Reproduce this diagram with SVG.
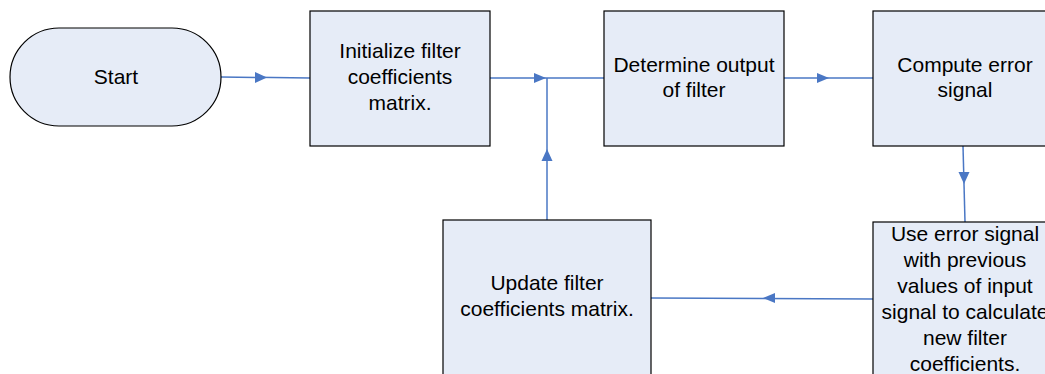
<svg xmlns="http://www.w3.org/2000/svg" width="1045" height="374" viewBox="0 0 1045 374">
<defs>
<style>
.box{fill:#E6ECF7;stroke:#000;stroke-width:1.2}
.t{font-family:"Liberation Sans",Arial,sans-serif;font-size:21px;fill:#000;text-anchor:middle}
.c{stroke:#4A77C4;stroke-width:1.5;fill:none}
.ah{fill:#4A77C4}
</style>
</defs>
<rect width="1045" height="374" fill="#fff"/>
<g id="connectors">
<line class="c" x1="221" y1="77" x2="310" y2="78"/>
<path class="ah" d="M255,72 L267,77.5 L255,83 Z"/>
<line class="c" x1="490" y1="78" x2="604" y2="78"/>
<path class="ah" d="M534,73 L546,78 L534,83 Z"/>
<line class="c" x1="547" y1="220" x2="547" y2="78"/>
<path class="ah" d="M541.5,161 L547,149 L552.5,161 Z"/>
<line class="c" x1="784" y1="78" x2="873" y2="78"/>
<path class="ah" d="M817,73 L829,78 L817,83 Z"/>
<line class="c" x1="963" y1="146" x2="965" y2="222"/>
<path class="ah" d="M958.5,172 L964,184 L969.5,172 Z"/>
<line class="c" x1="873" y1="299" x2="651" y2="298"/>
<path class="ah" d="M775,293 L763,298 L775,303 Z"/>
</g>
<g id="start">
<rect class="box" x="10" y="28" width="211" height="98" rx="49" ry="49"/>
<text class="t" x="116" y="84">Start</text>
</g>
<g id="init">
<rect class="box" x="310" y="11" width="180" height="135"/>
<text class="t" x="400" y="58">Initialize filter</text>
<text class="t" x="400" y="84">coefficients</text>
<text class="t" x="400" y="110">matrix.</text>
</g>
<g id="determine">
<rect class="box" x="604" y="11" width="180" height="135"/>
<text class="t" x="694" y="72">Determine output</text>
<text class="t" x="694" y="97">of filter</text>
</g>
<g id="compute">
<rect class="box" x="873" y="11" width="184" height="135"/>
<text class="t" x="965" y="72">Compute error</text>
<text class="t" x="965" y="97">signal</text>
</g>
<g id="update">
<rect class="box" x="443" y="220" width="208" height="160"/>
<text class="t" x="547" y="290">Update filter</text>
<text class="t" x="547" y="316">coefficients matrix.</text>
</g>
<g id="use">
<rect class="box" x="873" y="222" width="184" height="160"/>
<text class="t" x="965" y="241">Use error signal</text>
<text class="t" x="965" y="267">with previous</text>
<text class="t" x="965" y="293">values of input</text>
<text class="t" x="965" y="319">signal to calculate</text>
<text class="t" x="965" y="345">new filter</text>
<text class="t" x="965" y="371">coefficients.</text>
</g>
</svg>
